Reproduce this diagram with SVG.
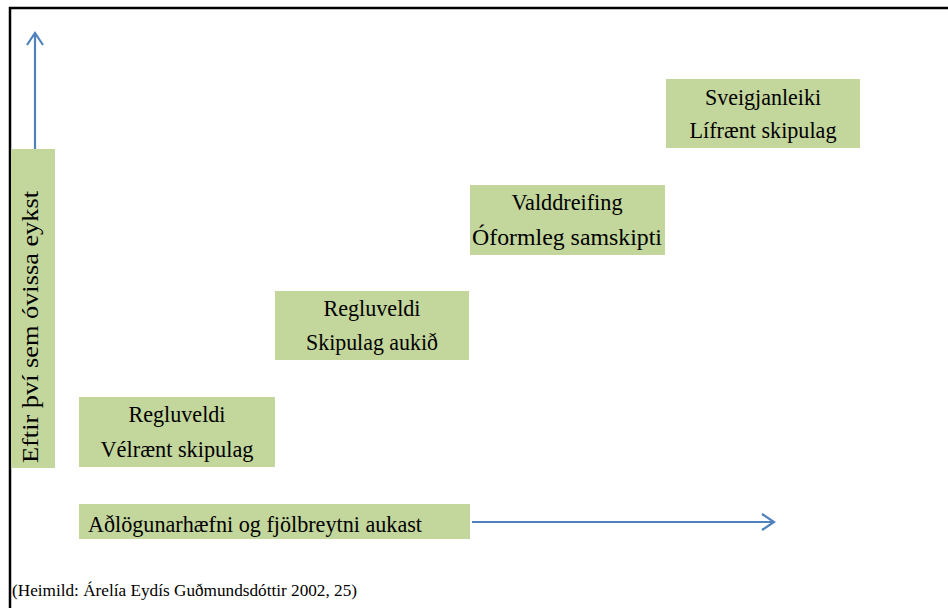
<svg xmlns="http://www.w3.org/2000/svg" width="948" height="608" viewBox="0 0 948 608">
<style>
.box{fill:#C3D69B}
.arr{stroke:#4F81BD;stroke-width:2.2;fill:none}
</style>
<rect width="948" height="608" fill="#fff"/>
<path d="M10,608 V8 H948" fill="none" stroke="#000" stroke-width="2.5"/>
<g id="connectors">
<path class="arr" d="M35,149 V33 M27,45 L35,33 L43,45"/>
<path class="arr" d="M472,522 H774 M762,514 L774,522 L762,530"/>
</g>
<g id="yaxis">
<rect class="box" x="11" y="149" width="44" height="319"/>
<text font-family="Liberation Serif" font-size="23" transform="translate(38,463) rotate(-90)" textLength="272" lengthAdjust="spacingAndGlyphs">Eftir því sem óvissa eykst</text>
</g>
<g id="xaxis">
<rect class="box" x="79" y="504" width="391" height="35"/>
<text font-family="Liberation Serif" font-size="23" x="88" y="532" textLength="334" lengthAdjust="spacingAndGlyphs">Aðlögunarhæfni og fjölbreytni aukast</text>
</g>
<g id="node1">
<rect class="box" x="79" y="397" width="196" height="70"/>
<text font-family="Liberation Serif" font-size="23" text-anchor="middle" x="177" y="422" textLength="97" lengthAdjust="spacingAndGlyphs">Regluveldi</text>
<text font-family="Liberation Serif" font-size="23" text-anchor="middle" x="177" y="457" textLength="153" lengthAdjust="spacingAndGlyphs">Vélrænt skipulag</text>
</g>
<g id="node2">
<rect class="box" x="275" y="291" width="194" height="69"/>
<text font-family="Liberation Serif" font-size="23" text-anchor="middle" x="372" y="316" textLength="97" lengthAdjust="spacingAndGlyphs">Regluveldi</text>
<text font-family="Liberation Serif" font-size="23" text-anchor="middle" x="372" y="350" textLength="132" lengthAdjust="spacingAndGlyphs">Skipulag aukið</text>
</g>
<g id="node3">
<rect class="box" x="470" y="185" width="195" height="70"/>
<text font-family="Liberation Serif" font-size="23" text-anchor="middle" x="567" y="210" textLength="111" lengthAdjust="spacingAndGlyphs">Valddreifing</text>
<text font-family="Liberation Serif" font-size="23" text-anchor="middle" x="567" y="245" textLength="190" lengthAdjust="spacingAndGlyphs">Óformleg samskipti</text>
</g>
<g id="node4">
<rect class="box" x="666" y="79" width="194" height="69"/>
<text font-family="Liberation Serif" font-size="23" text-anchor="middle" x="763" y="105" textLength="116" lengthAdjust="spacingAndGlyphs">Sveigjanleiki</text>
<text font-family="Liberation Serif" font-size="23" text-anchor="middle" x="763" y="138" textLength="147" lengthAdjust="spacingAndGlyphs">Lífrænt skipulag</text>
</g>
<text font-family="Liberation Serif" font-size="16" x="12" y="596" textLength="345" lengthAdjust="spacingAndGlyphs">(Heimild: Árelía Eydís Guðmundsdóttir 2002, 25)</text>
</svg>
